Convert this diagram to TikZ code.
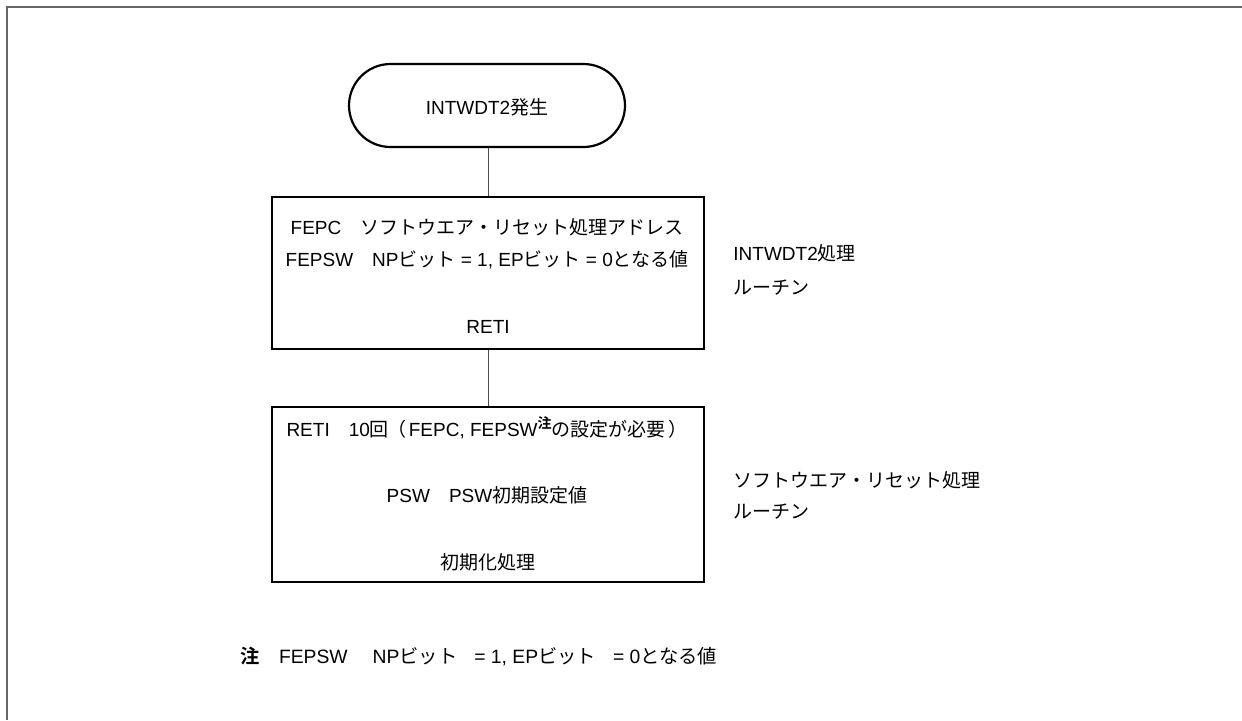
\documentclass[tikz,border=0pt]{standalone}
\usepackage{fontspec}
\setmainfont{Liberation Sans}
\newfontfamily\jp{Noto Sans CJK JP}[BoldFont={Noto Sans CJK JP Bold}]
\newcommand\J[1]{{\jp #1}}
\usetikzlibrary{shapes.misc}
\begin{document}
\begin{tikzpicture}[x=0.5pt,y=-0.5pt,
  font=\fontsize{9.5pt}{11pt}\selectfont,
  frameline/.style={draw=black!60, line width=1pt},
  boxstyle/.style={draw=black, line width=1.1pt, minimum width=216pt, inner sep=0pt},
  termstyle/.style={draw=black, line width=1.1pt, rounded rectangle, minimum width=138pt, minimum height=41.5pt, inner sep=0pt},
  conn/.style={draw=black!70, line width=0.5pt},
  txt/.style={inner sep=0pt, anchor=center},
  ltxt/.style={inner sep=0pt, anchor=west}]
\useasboundingbox (0,0) rectangle (1242,720);
\fill[white] (0,0) rectangle (1242,720);
\draw[frameline] (7,720) -- (7,7) -- (1242,7);

\node[termstyle] (term) at (487,105.5) {};
\node[txt] (termtxt) at (487,107) {INTWDT2\J{発生}};

\node[boxstyle, minimum height=76pt] (box1) at (488,273) {};
\node[txt] (b1a) at (487,227) {FEPC\hspace{1em}\J{ソフトウエア・リセット処理アドレス}};
\node[txt] (b1b) at (487,260) {FEPSW\hspace{1em}NP\J{ビット} = 1, EP\J{ビット} = 0\J{となる値}};
\node[txt] (b1c) at (488,327) {RETI};

\node[boxstyle, minimum height=87.5pt] (box2) at (488,494.5) {};
\node[txt] (b2a) at (487,428) {RETI\hspace{1em}10\J{回}\hspace{-0.1em}\J{（}\hspace{0.15em}FEPC, FEPSW\raisebox{0.8ex}{\fontsize{7pt}{7pt}\selectfont\jp\bfseries 注}\J{の設定が必要}\hspace{0.15em}\J{）}};
\node[txt] (b2b) at (487,495) {PSW\hspace{1em}PSW\J{初期設定値}};
\node[txt] (b2c) at (488,562) {\J{初期化処理}};

\draw[conn] (term.south -| box1.north) -- (box1.north);
\draw[conn] (box1.south) -- (box2.north);

\node[ltxt] (r1a) at (733,253) {INTWDT2\J{処理}};
\node[ltxt] (r1b) at (733,288) {\J{ルーチン}};
\node[ltxt] (r2a) at (733,480) {\J{ソフトウエア・リセット処理}};
\node[ltxt] (r2b) at (733,512) {\J{ルーチン}};

\node[ltxt, font=\fontsize{9.65pt}{11pt}\selectfont] (note) at (240,656) {{\jp\bfseries 注}\hspace{1em}FEPSW\hspace{1.3em}NP\J{ビット}\hspace{0.6em} = 1, EP\J{ビット}\hspace{0.6em} = 0\J{となる値}};
\end{tikzpicture}
\end{document}
